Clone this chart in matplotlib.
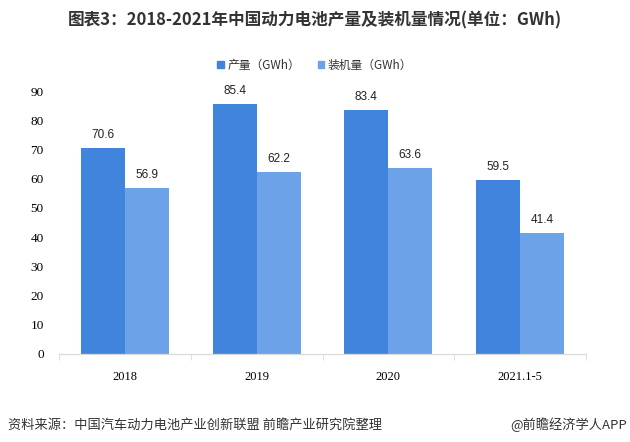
import matplotlib
matplotlib.use("Agg")
import matplotlib.patches as mpatches
import matplotlib.pyplot as plt
import numpy as np

CATEGORIES = ["2018", "2019", "2020", "2021.1-5"]
OUTPUT = [70.6, 85.4, 83.4, 59.5]
INSTALLED = [56.9, 62.2, 63.6, 41.4]
SERIES_NAMES = ["产量（GWh）", "装机量（GWh）"]
Y_TICKS = [0, 10, 20, 30, 40, 50, 60, 70, 80, 90]

TITLE = "图表3：2018-2021年中国动力电池产量及装机量情况(单位：GWh)"
SOURCE = "资料来源：中国汽车动力电池产业创新联盟 前瞻产业研究院整理"
CREDIT = "@前瞻经济学人APP"

DARK = "#4184DE"
LIGHT = "#6CA2E8"
CJK = ["Noto Sans CJK SC", "DejaVu Sans"]


def main() -> None:
    plt.rcParams["font.family"] = CJK
    fig = plt.figure(figsize=(6.3, 4.42), dpi=100)
    ax = fig.add_axes([59 / 630, 1 - 354 / 442, (586 - 59) / 630, (354 - 91) / 442])

    x = np.arange(len(CATEGORIES))
    w = 1 / 3
    bars1 = ax.bar(x - w / 2, OUTPUT, width=w, color=DARK, zorder=2)
    bars2 = ax.bar(x + w / 2, INSTALLED, width=w, color=LIGHT, zorder=2)

    for bars in (bars1, bars2):
        for b in bars:
            ax.annotate(f"{b.get_height():.1f}", (b.get_x() + b.get_width() / 2, b.get_height()),
                        xytext=(0, 5), textcoords="offset points", ha="center", va="bottom",
                        fontsize=8.5, family="Liberation Sans", color="#222222")

    ax.set_xlim(-0.5, len(CATEGORIES) - 0.5)
    ax.set_ylim(0, 90)
    ax.set_yticks(Y_TICKS)
    ax.set_xticks(x)
    ax.set_xticklabels(CATEGORIES, family="Liberation Serif", fontsize=9)
    ax.set_xticks(np.arange(len(CATEGORIES) + 1) - 0.5, minor=True)
    for lbl in ax.get_yticklabels():
        lbl.set_family("Liberation Serif")
        lbl.set_fontsize(9.5)
    ax.tick_params(axis="x", which="major", length=0, pad=12)
    ax.tick_params(axis="x", which="minor", length=4, color="#D9D9D9", direction="out")
    ax.tick_params(axis="y", length=0, pad=11)
    for side in ("top", "right", "left"):
        ax.spines[side].set_visible(False)
    ax.spines["bottom"].set_color("#D9D9D9")
    ax.spines["bottom"].set_linewidth(0.9)

    handles = [mpatches.Patch(color=DARK, label=SERIES_NAMES[0]),
               mpatches.Patch(color=LIGHT, label=SERIES_NAMES[1])]
    fig.legend(handles=handles, loc="center", bbox_to_anchor=(0.5, 1 - 65 / 442), ncol=2,
               frameon=False, handlelength=0.55, handleheight=0.55, handletextpad=0.3,
               columnspacing=1.5, fontsize=8.5, labelcolor="#333333")

    fig.text(0.5, 1 - 20 / 442, TITLE, ha="center", va="center", fontsize=12,
             fontweight="bold", color="#333333")
    fig.text(8 / 630, 1 - 425 / 442, SOURCE, ha="left", va="center", fontsize=9.5, color="#333333")
    fig.text(627 / 630, 1 - 425 / 442, CREDIT, ha="right", va="center", fontsize=9.5, color="#333333")

    fig.savefig("out.png", dpi=100)
    plt.close(fig)


if __name__ == "__main__":
    main()
